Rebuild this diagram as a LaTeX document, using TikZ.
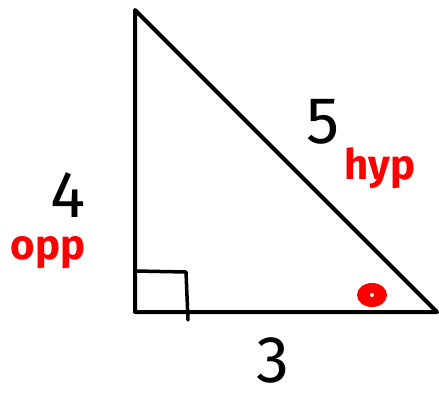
\documentclass[tikz,border=0pt]{standalone}
\usepackage{fontspec}
\setmainfont{Fira Sans}
\usetikzlibrary{positioning, shapes.geometric}
\definecolor{markred}{RGB}{255,0,0}

\begin{document}
\begin{tikzpicture}[x=1pt, y=-1pt, line width=4pt, line join=round, line cap=round,
    sidelen/.style={inner sep=0pt, font=\fontsize{66}{66}\selectfont},
    sidename/.style={inner sep=0pt, markred, font=\bfseries\fontsize{42}{42}\selectfont}]
  \useasboundingbox (0,0) rectangle (439,396);

  % Corners of the triangle
  \coordinate (top) at (135,10);
  \coordinate (rt) at (135,312);
  \coordinate (acute) at (437,312);

  % Triangle
  \draw (top) -- (rt) -- (acute) -- cycle;

  % Right angle mark
  \draw[line width=3.5pt] (135,271) -- (186,272) -- (188,320);

  % Marked angle
  \node[ellipse, fill=markred, minimum width=30pt, minimum height=24pt,
        inner sep=0pt] (dot) at (372,295) {};
  \fill[white] (dot.center) circle (2pt);

  % Side lengths
  \node[sidelen] (four) at (68,195) {4};
  \node[sidelen] (five) at (323,122) {5};
  \node[sidelen] (three) at (273,360) {3};

  % Side names
  \node[sidename] (opp) at (48,253) {opp};
  \node[sidename] (hyp) at (380,168) {hyp};
\end{tikzpicture}
\end{document}
